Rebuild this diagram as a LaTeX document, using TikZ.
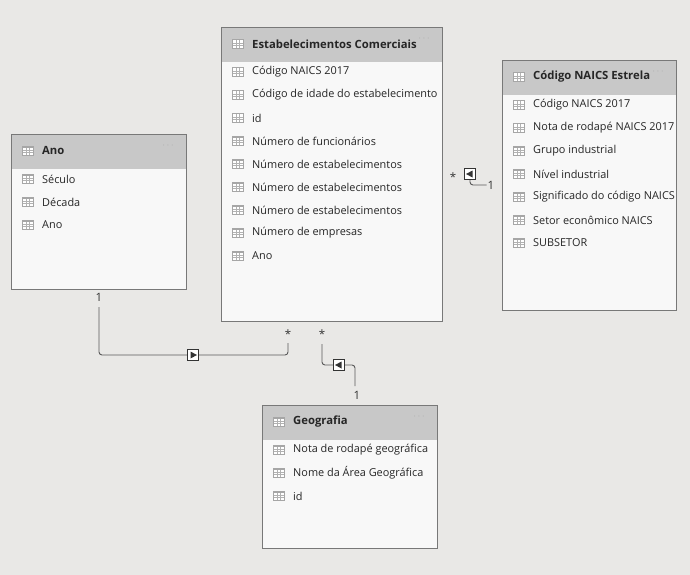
\documentclass[tikz,border=0pt]{standalone}
\usepackage{fontspec}
\setmainfont{Open Sans}
\usetikzlibrary{positioning,calc}
\definecolor{bg}{RGB}{233,232,230}
\definecolor{hdr}{RGB}{200,200,200}
\definecolor{bodyc}{RGB}{248,248,248}
\definecolor{edge}{RGB}{120,120,120}
\tikzstyle{tbl} = [draw=edge, fill=bodyc, line width=0.8pt]
\tikzstyle{head} = [fill=hdr]
\tikzstyle{field} = [anchor=west, font=\fontsize{10.9}{12}\selectfont, inner sep=0pt, text=black!85]
\tikzstyle{title} = [anchor=west, font=\fontsize{11.3}{12}\selectfont\bfseries, inner sep=0pt, text=black!85]
\tikzstyle{card} = [font=\fontsize{11.5}{12}\selectfont, inner sep=1pt, text=black!80]
\tikzstyle{rel} = [draw=black!65, line width=0.9pt, rounded corners=3pt]
\tikzstyle{dir} = [draw=black!80, fill=white, line width=1.4pt, minimum size=11pt, inner sep=0pt]
\newcommand{\gridicon}[1]{%
 \fill[black!35] ($(#1)+(0,-5)$) rectangle ++(12,10);
 \fill[white] ($(#1)+(1,-3.5)$) rectangle ++(10,7.5);
 \draw[black!30,line width=0.4pt] ($(#1)+(4.3,-3.5)$) -- ++(0,7.5) ($(#1)+(7.6,-3.5)$) -- ++(0,7.5)
   ($(#1)+(1,-1)$) -- ++(10,0) ($(#1)+(1,1.5)$) -- ++(10,0);}
% table: name, x0, y0, x1, y1, title, fields
\newcommand{\mktable}[7]{%
 \draw[tbl] (#2,#3) rectangle (#4,#5);
 \fill[head] (#2,#3) rectangle (#4,#3+35);
 \draw[edge,line width=0.8pt] (#2,#3) rectangle (#4,#5);
 \coordinate (#1-t) at (#2+11,#3+17);
 \gridicon{#1-t}
 \node[title] (#1) at (#2+31,#3+17) {#6};
 \node[text=black!40,font=\footnotesize] at (#4-18,#3+12) {$\cdot\cdot\cdot$};
 \foreach \f [count=\i] in {#7} {
  \coordinate (#1-i\i) at (#2+11,#3+23*\i+22);
  \gridicon{#1-i\i}
  \node[field] (#1-\i) at (#2+31,#3+23*\i+22) {\f};
 }}
\begin{document}
\begin{tikzpicture}[x=1pt,y=-1pt]
\fill[bg] (0,0) rectangle (690,575);
\useasboundingbox (0,0) rectangle (690,575);

\mktable{est}{221}{27}{442}{321}{Estabelecimentos Comerciais}{Código NAICS 2017,Código de idade do estabelecimento,id,Número de funcionários,Número de estabelecimentos,Número de estabelecimentos,Número de estabelecimentos,Número de empresas,Ano}
\mktable{naics}{502}{60}{676}{310}{Código NAICS Estrela}{Código NAICS 2017,Nota de rodapé NAICS 2017,Grupo industrial,Nível industrial,Significado do código NAICS,Setor econômico NAICS,SUBSETOR}
\mktable{ano}{11}{134}{186}{289}{Ano}{Século,Década,Ano}
\mktable{geo}{262}{405}{437}{548}{Geografia}{Nota de rodapé geográfica,Nome da Área Geográfica,id}

% Ano -> Estabelecimentos
\coordinate (a1) at (99,307);
\coordinate (a2) at (288,343);
\node[card] (c1) at (99,297) {1};
\node[card] (c2) at (288,334) {*};
\draw[rel] (a1) |- (193,355) -| (a2);
\node[dir] (d1) at (193,355) {};
\fill[black!80] ($(d1)+(-2.5,-3.5)$) -- ++(6.5,3.5) -- ++(-6.5,3.5) -- cycle;

% Geografia -> Estabelecimentos
\coordinate (g1) at (322,344);
\coordinate (g2) at (355,386);
\node[card] (c3) at (322,334) {*};
\node[card] (c4) at (357,395) {1};
\draw[rel] (g1) |- (339,365) -| (g2);
\node[dir] (d2) at (339,365) {};
\fill[black!80] ($(d2)+(2.5,-3.5)$) -- ++(-6.5,3.5) -- ++(6.5,3.5) -- cycle;

% NAICS -> Estabelecimentos
\node[card] (c5) at (453,177) {*};
\node[card] (c6) at (491,185) {1};
\node[dir] (d3) at (470,174) {};
\fill[black!80] ($(d3)+(2.5,-3.5)$) -- ++(-6.5,3.5) -- ++(6.5,3.5) -- cycle;
\draw[rel] (d3.south) |- (c6.west);
\end{tikzpicture}
\end{document}
